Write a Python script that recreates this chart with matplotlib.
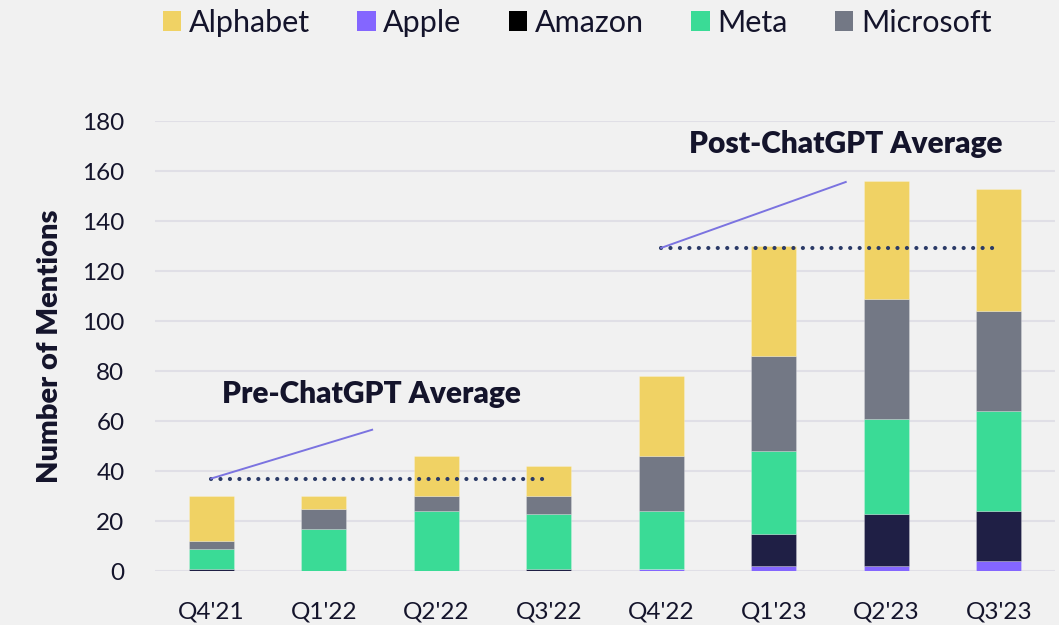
import matplotlib
matplotlib.use("Agg")
import matplotlib.pyplot as plt
from matplotlib.patches import Patch
import numpy as np

quarters = ["Q4'21", "Q1'22", "Q2'22", "Q3'22", "Q4'22", "Q1'23", "Q2'23", "Q3'23"]
apple = [0, 0, 0, 0, 1, 2, 2, 4]
amazon = [1, 0, 0, 1, 0, 13, 21, 20]
meta = [8, 17, 24, 22, 23, 33, 38, 40]
microsoft = [3, 8, 6, 7, 22, 38, 48, 40]
alphabet = [18, 5, 16, 12, 32, 44, 47, 49]

series = [("Apple", apple, "#8466FF"),
          ("Amazon", amazon, "#1F1F45"),
          ("Meta", meta, "#3ADB96"),
          ("Microsoft", microsoft, "#737885"),
          ("Alphabet", alphabet, "#F0D264")]

BG = "#F1F1F1"
TXT = "#14142B"
plt.rcParams['font.family'] = ['Lato', 'DejaVu Sans']

fig = plt.figure(figsize=(10.59, 6.25), dpi=100, facecolor=BG)
ax = fig.add_axes([0.1464, 0.0864, 0.8498, 0.72])
ax.set_facecolor(BG)

x = np.arange(len(quarters))
bottom = np.zeros(len(quarters))
for name, vals, col in series:
    v = np.array(vals, dtype=float)
    ax.bar(x, v, bottom=bottom, width=0.4, color=col, linewidth=0.6,
           edgecolor=(1, 1, 1, 0.25), zorder=3)
    bottom += v

totals = bottom
pre_avg = totals[:4].mean()
post_avg = totals[4:].mean()

dot_style = dict(color="#2B3A67", linewidth=3, linestyle=(0, (0.01, 2.26)),
                 dash_capstyle="round", zorder=4)
ax.plot([0, 3], [pre_avg, pre_avg], **dot_style)
ax.plot([4, 7], [post_avg, post_avg], **dot_style)

conn = "#7B73E0"
ax.plot([0, 1.43], [pre_avg, 56.5], color=conn, linewidth=1.4, zorder=4)
ax.plot([4, 5.64], [post_avg, 155.6], color=conn, linewidth=1.4, zorder=4)

ax.text(1.42, 71, "Pre-ChatGPT Average", ha="center", va="center",
        fontsize=21.5, fontweight="heavy", color=TXT)
ax.text(5.64, 171, "Post-ChatGPT Average", ha="center", va="center",
        fontsize=21.5, fontweight="heavy", color=TXT)

ax.set_xlim(-0.5, 7.5)
ax.set_ylim(0, 180)
ax.set_yticks(np.arange(0, 181, 20))
ax.set_xticks(x)
ax.set_xticklabels(quarters)
ax.tick_params(axis="both", length=0, labelsize=17.5, colors=TXT)
ax.tick_params(axis="x", pad=22)
ax.tick_params(axis="y", pad=22)
for s in ax.spines.values():
    s.set_visible(False)
ax.grid(axis="y", color="#E0DFE6", linewidth=1.5, zorder=0)
ax.set_axisbelow(True)
ax.set_ylabel("Number of Mentions", fontsize=21, fontweight="heavy",
              color=TXT, labelpad=14)

legend_items = [("Alphabet", "#F0D264"), ("Apple", "#8466FF"),
                ("Amazon", "#000000"), ("Meta", "#3ADB96"),
                ("Microsoft", "#737885")]
handles = [Patch(facecolor=c, edgecolor="none", label=n) for n, c in legend_items]
leg = fig.legend(handles=handles, loc="upper center", bbox_to_anchor=(0.545, 1.03),
                 ncol=5, frameon=False, fontsize=22, handlelength=0.6,
                 handleheight=0.6, handletextpad=0.25, columnspacing=1.55)
for t in leg.get_texts():
    t.set_color(TXT)

fig.savefig("out.png", dpi=100, facecolor=BG)
